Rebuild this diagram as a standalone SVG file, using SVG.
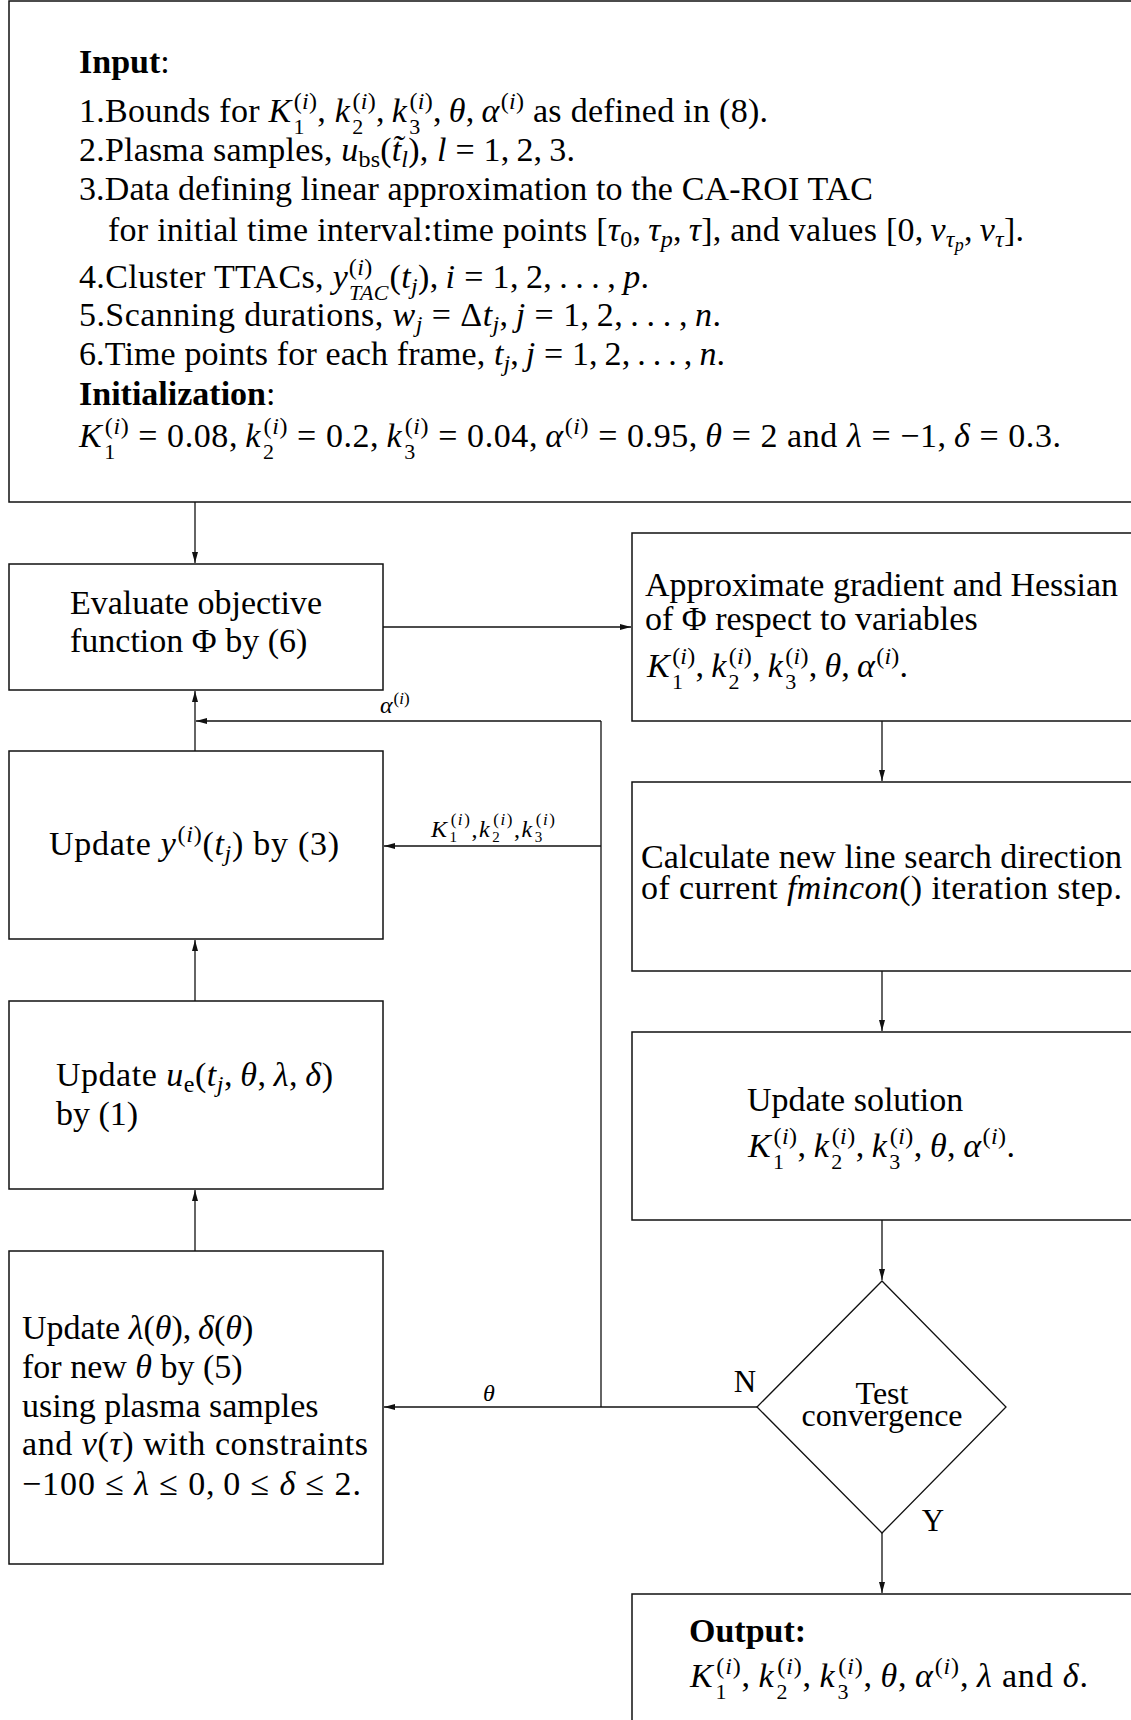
<svg xmlns="http://www.w3.org/2000/svg" width="1131" height="1720" viewBox="0 0 1131 1720">
<style>
.t{font-family:"Liberation Serif","Times New Roman",serif;font-size:34px;fill:#000}
.i{font-style:italic}
.s{font-size:24px}
.sb{font-size:22px}
.ss{font-size:18px}
.b{font-weight:bold}
.box{fill:#fff;stroke:#111;stroke-width:1.5}
.c{fill:none;stroke:#111;stroke-width:1.3}
.l{font-family:"Liberation Serif","Times New Roman",serif;font-size:24px;fill:#000}
.l .s{font-size:17px}
.l .sb{font-size:15px}
.d{font-family:"Liberation Serif","Times New Roman",serif;font-size:32px;fill:#000;text-anchor:middle}
</style>
<defs>
<marker id="ah" markerWidth="12" markerHeight="8" refX="11" refY="4" orient="auto" markerUnits="userSpaceOnUse"><path d="M0,1 L11,4 L0,7 z" fill="#111"/></marker>
</defs>
<rect width="1131" height="1720" fill="#fff"/>

<g id="input">
<rect class="box" x="9" y="1" width="1140" height="501"/>
<text x="79" y="73" class="t"><tspan class="b">Input</tspan>:</text>
<text x="79" y="122" class="t" textLength="689">1.Bounds for <tspan class="i">K</tspan><tspan class="sb" dx="2" dy="12">1</tspan><tspan class="s" dx="-11" dy="-25">(<tspan class="i">i</tspan>)</tspan><tspan dy="13">, </tspan><tspan class="i">k</tspan><tspan class="sb" dx="2" dy="12">2</tspan><tspan class="s" dx="-11" dy="-25">(<tspan class="i">i</tspan>)</tspan><tspan dy="13">,&#8201;</tspan><tspan class="i">k</tspan><tspan class="sb" dx="2" dy="12">3</tspan><tspan class="s" dx="-11" dy="-25">(<tspan class="i">i</tspan>)</tspan><tspan dy="13">,&#8201;</tspan><tspan class="i">θ</tspan>,&#8201;<tspan class="i">α</tspan><tspan class="s" dx="1" dy="-13">(<tspan class="i">i</tspan>)</tspan><tspan dy="13"> as defined in (8).</tspan></text>
<text x="79" y="161" class="t" textLength="496">2.Plasma samples, <tspan class="i">u</tspan><tspan class="s" dy="6">bs</tspan><tspan dy="-6">(</tspan><tspan class="i">t&#771;</tspan><tspan class="s i" dy="6">l</tspan><tspan dy="-6">), </tspan><tspan class="i">l</tspan> = 1,&#8201;2,&#8201;3.</text>
<text x="79" y="200" class="t" textLength="794">3.Data defining linear approximation to the CA-ROI TAC</text>
<text x="108" y="241" class="t" textLength="916">for initial time interval:time points [<tspan class="i">τ</tspan><tspan class="s" dy="6">0</tspan><tspan dy="-6">,&#8201;</tspan><tspan class="i">τ</tspan><tspan class="s i" dy="6">p</tspan><tspan dy="-6">,&#8201;</tspan><tspan class="i">τ</tspan>], and values [0,&#8201;<tspan class="i">v</tspan><tspan class="s i" dy="6">τ</tspan><tspan class="ss i" dy="4">p</tspan><tspan dy="-10">,&#8201;</tspan><tspan class="i">v</tspan><tspan class="s i" dy="6">τ</tspan><tspan dy="-6">].</tspan></text>
<text x="79" y="288" class="t" textLength="570">4.Cluster TTACs, <tspan class="i">y</tspan><tspan class="sb i" dx="1" dy="12">TAC</tspan><tspan class="s" dx="-40" dy="-25">(<tspan class="i">i</tspan>)</tspan><tspan dx="17" dy="13">(</tspan><tspan class="i">t</tspan><tspan class="s i" dy="6">j</tspan><tspan dy="-6">),&#8201;</tspan><tspan class="i">i</tspan> = 1,&#8201;2,&#8201;.&#8201;.&#8201;.&#8201;,&#8201;<tspan class="i">p</tspan>.</text>
<text x="79" y="326" class="t" textLength="642">5.Scanning durations, <tspan class="i">w</tspan><tspan class="s i" dy="6">j</tspan><tspan dy="-6"> = Δ</tspan><tspan class="i">t</tspan><tspan class="s i" dy="6">j</tspan><tspan dy="-6">,&#8201;</tspan><tspan class="i">j</tspan> = 1,&#8201;2,&#8201;.&#8201;.&#8201;.&#8201;,&#8201;<tspan class="i">n</tspan>.</text>
<text x="79" y="365" class="t" textLength="646">6.Time points for each frame, <tspan class="i">t</tspan><tspan class="s i" dy="6">j</tspan><tspan dy="-6">,&#8201;</tspan><tspan class="i">j</tspan> = 1,&#8201;2,&#8201;.&#8201;.&#8201;.&#8201;,&#8201;<tspan class="i">n</tspan>.</text>
<text x="79" y="405" class="t"><tspan class="b">Initialization</tspan>:</text>
<text x="79" y="447" class="t" textLength="982"><tspan class="i">K</tspan><tspan class="sb" dx="2" dy="12">1</tspan><tspan class="s" dx="-11" dy="-25">(<tspan class="i">i</tspan>)</tspan><tspan dy="13"> = 0.08,&#8201;</tspan><tspan class="i">k</tspan><tspan class="sb" dx="2" dy="12">2</tspan><tspan class="s" dx="-11" dy="-25">(<tspan class="i">i</tspan>)</tspan><tspan dy="13"> = 0.2,&#8201;</tspan><tspan class="i">k</tspan><tspan class="sb" dx="2" dy="12">3</tspan><tspan class="s" dx="-11" dy="-25">(<tspan class="i">i</tspan>)</tspan><tspan dy="13"> = 0.04,&#8201;</tspan><tspan class="i">α</tspan><tspan class="s" dx="1" dy="-13">(<tspan class="i">i</tspan>)</tspan><tspan dy="13"> = 0.95,&#8201;</tspan><tspan class="i">θ</tspan> = 2 and <tspan class="i">λ</tspan> = −1,&#8201;<tspan class="i">δ</tspan> = 0.3.</text>
</g>

<g id="evaluate">
<rect class="box" x="9" y="564" width="374" height="126"/>
<text x="70" y="614" class="t">Evaluate objective</text>
<text x="70" y="652" class="t">function Φ by (6)</text>
</g>

<g id="update-y">
<rect class="box" x="9" y="751" width="374" height="188"/>
<text x="49" y="855" class="t" textLength="290">Update <tspan class="i">y</tspan><tspan class="s" dx="1" dy="-13">(<tspan class="i">i</tspan>)</tspan><tspan dy="13">(</tspan><tspan class="i">t</tspan><tspan class="s i" dy="6">j</tspan><tspan dy="-6">) by (3)</tspan></text>
</g>

<g id="update-ue">
<rect class="box" x="9" y="1001" width="374" height="188"/>
<text x="56" y="1086" class="t" textLength="277">Update <tspan class="i">u</tspan><tspan class="s" dy="6">e</tspan><tspan dy="-6">(</tspan><tspan class="i">t</tspan><tspan class="s i" dy="6">j</tspan><tspan dy="-6">,&#8201;</tspan><tspan class="i">θ</tspan>,&#8201;<tspan class="i">λ</tspan>,&#8201;<tspan class="i">δ</tspan>)</text>
<text x="56" y="1125" class="t">by (1)</text>
</g>

<g id="update-lambda">
<rect class="box" x="9" y="1251" width="374" height="313"/>
<text x="22" y="1339" class="t">Update <tspan class="i">λ</tspan>(<tspan class="i">θ</tspan>),&#8201;<tspan class="i">δ</tspan>(<tspan class="i">θ</tspan>)</text>
<text x="22" y="1378" class="t">for new <tspan class="i">θ</tspan> by (5)</text>
<text x="22" y="1417" class="t">using plasma samples</text>
<text x="22" y="1455" class="t" textLength="346">and <tspan class="i">v</tspan>(<tspan class="i">τ</tspan>) with constraints</text>
<text x="22" y="1495" class="t" textLength="339">−100 ≤ <tspan class="i">λ</tspan> ≤ 0,&#8201;0 ≤ <tspan class="i">δ</tspan> ≤ 2.</text>
</g>

<g id="gradient">
<rect class="box" x="632" y="533" width="520" height="188"/>
<text x="645" y="596" class="t">Approximate gradient and Hessian</text>
<text x="645" y="630" class="t">of Φ respect to variables</text>
<text x="647" y="677" class="t" textLength="261"><tspan class="i">K</tspan><tspan class="sb" dx="2" dy="12">1</tspan><tspan class="s" dx="-11" dy="-25">(<tspan class="i">i</tspan>)</tspan><tspan dy="13">,&#8201;</tspan><tspan class="i">k</tspan><tspan class="sb" dx="2" dy="12">2</tspan><tspan class="s" dx="-11" dy="-25">(<tspan class="i">i</tspan>)</tspan><tspan dy="13">,&#8201;</tspan><tspan class="i">k</tspan><tspan class="sb" dx="2" dy="12">3</tspan><tspan class="s" dx="-11" dy="-25">(<tspan class="i">i</tspan>)</tspan><tspan dy="13">,&#8201;</tspan><tspan class="i">θ</tspan>,&#8201;<tspan class="i">α</tspan><tspan class="s" dx="1" dy="-13">(<tspan class="i">i</tspan>)</tspan><tspan dy="13">.</tspan></text>
</g>

<g id="direction">
<rect class="box" x="632" y="782" width="520" height="189"/>
<text x="641" y="868" class="t" textLength="481">Calculate new line search direction</text>
<text x="641" y="899" class="t" textLength="481">of current <tspan class="i">fmincon</tspan>() iteration step.</text>
</g>

<g id="update-solution">
<rect class="box" x="632" y="1032" width="520" height="188"/>
<text x="747" y="1111" class="t">Update solution</text>
<text x="748" y="1157" class="t" textLength="267"><tspan class="i">K</tspan><tspan class="sb" dx="2" dy="12">1</tspan><tspan class="s" dx="-11" dy="-25">(<tspan class="i">i</tspan>)</tspan><tspan dy="13">,&#8201;</tspan><tspan class="i">k</tspan><tspan class="sb" dx="2" dy="12">2</tspan><tspan class="s" dx="-11" dy="-25">(<tspan class="i">i</tspan>)</tspan><tspan dy="13">,&#8201;</tspan><tspan class="i">k</tspan><tspan class="sb" dx="2" dy="12">3</tspan><tspan class="s" dx="-11" dy="-25">(<tspan class="i">i</tspan>)</tspan><tspan dy="13">,&#8201;</tspan><tspan class="i">θ</tspan>,&#8201;<tspan class="i">α</tspan><tspan class="s" dx="1" dy="-13">(<tspan class="i">i</tspan>)</tspan><tspan dy="13">.</tspan></text>
</g>

<g id="test">
<polygon points="882,1281 1006,1407 882,1533 757,1407" fill="#fff" stroke="#111" stroke-width="1.3"/>
<text x="882" y="1404" class="d">Test</text>
<text x="882" y="1426" class="d">convergence</text>
</g>

<g id="output">
<rect class="box" x="632" y="1594" width="520" height="200"/>
<text x="689" y="1642" class="t b">Output:</text>
<text x="690" y="1687" class="t" textLength="398"><tspan class="i">K</tspan><tspan class="sb" dx="2" dy="12">1</tspan><tspan class="s" dx="-11" dy="-25">(<tspan class="i">i</tspan>)</tspan><tspan dy="13">,&#8201;</tspan><tspan class="i">k</tspan><tspan class="sb" dx="2" dy="12">2</tspan><tspan class="s" dx="-11" dy="-25">(<tspan class="i">i</tspan>)</tspan><tspan dy="13">,&#8201;</tspan><tspan class="i">k</tspan><tspan class="sb" dx="2" dy="12">3</tspan><tspan class="s" dx="-11" dy="-25">(<tspan class="i">i</tspan>)</tspan><tspan dy="13">,&#8201;</tspan><tspan class="i">θ</tspan>,&#8201;<tspan class="i">α</tspan><tspan class="s" dx="1" dy="-13">(<tspan class="i">i</tspan>)</tspan><tspan dy="13">,&#8201;</tspan><tspan class="i">λ</tspan> and <tspan class="i">δ</tspan>.</text>
</g>

<g id="connectors">
<line class="c" x1="195" y1="502" x2="195" y2="563" marker-end="url(#ah)"/>
<line class="c" x1="195" y1="751" x2="195" y2="691" marker-end="url(#ah)"/>
<line class="c" x1="601" y1="721" x2="196" y2="721" marker-end="url(#ah)"/>
<line class="c" x1="601" y1="721" x2="601" y2="1407"/>
<line class="c" x1="601" y1="846" x2="384" y2="846" marker-end="url(#ah)"/>
<line class="c" x1="195" y1="1001" x2="195" y2="940" marker-end="url(#ah)"/>
<line class="c" x1="195" y1="1251" x2="195" y2="1190" marker-end="url(#ah)"/>
<line class="c" x1="757" y1="1407" x2="384" y2="1407" marker-end="url(#ah)"/>
<line class="c" x1="383" y1="627" x2="631" y2="627" marker-end="url(#ah)"/>
<line class="c" x1="882" y1="721" x2="882" y2="781" marker-end="url(#ah)"/>
<line class="c" x1="882" y1="971" x2="882" y2="1031" marker-end="url(#ah)"/>
<line class="c" x1="882" y1="1220" x2="882" y2="1280" marker-end="url(#ah)"/>
<line class="c" x1="882" y1="1533" x2="882" y2="1593" marker-end="url(#ah)"/>
<text x="380" y="713" class="l"><tspan class="i">α</tspan><tspan class="s" dx="1" dy="-9">(<tspan class="i">i</tspan>)</tspan></text>
<text x="431" y="837" class="l" textLength="124"><tspan class="i">K</tspan><tspan class="sb" dx="1" dy="5">1</tspan><tspan class="s" dx="-8" dy="-17">(<tspan class="i">i</tspan>)</tspan><tspan dy="12">,</tspan><tspan class="i">k</tspan><tspan class="sb" dx="1" dy="5">2</tspan><tspan class="s" dx="-8" dy="-17">(<tspan class="i">i</tspan>)</tspan><tspan dy="12">,</tspan><tspan class="i">k</tspan><tspan class="sb" dx="1" dy="5">3</tspan><tspan class="s" dx="-8" dy="-17">(<tspan class="i">i</tspan>)</tspan></text>
<text x="483" y="1401" class="l i">θ</text>
<text x="745" y="1392" class="d" style="font-size:31px">N</text>
<text x="933" y="1531" class="d" style="font-size:31px">Y</text>
</g>
</svg>
